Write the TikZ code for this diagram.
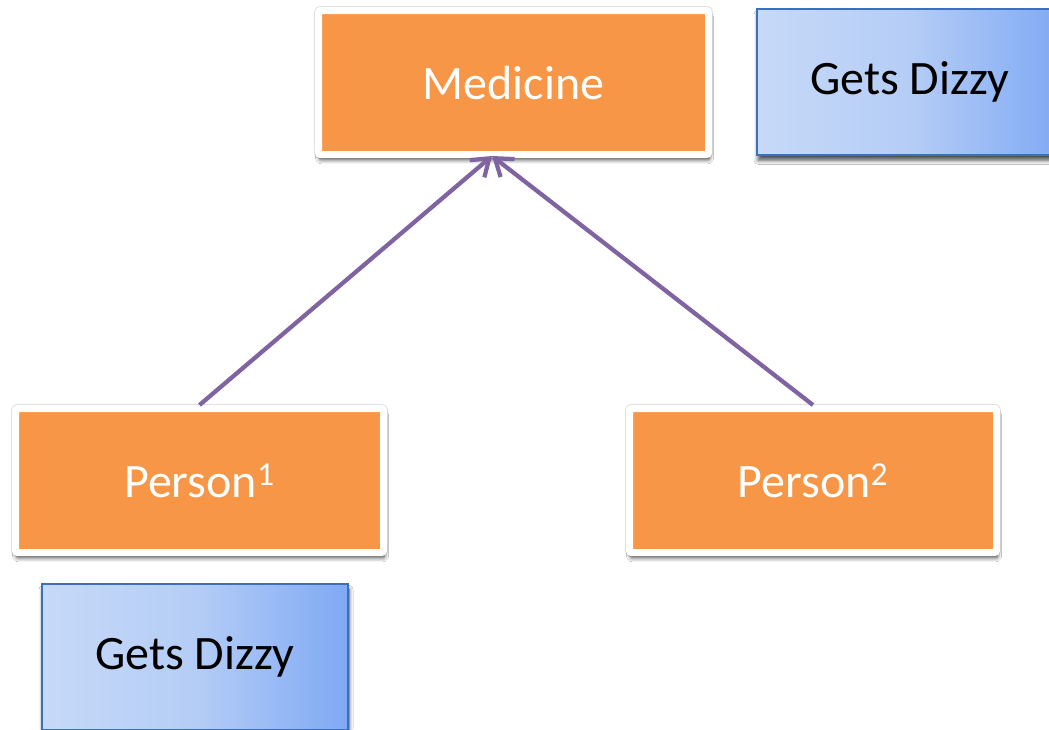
\documentclass[tikz,border=0pt]{standalone}
\usepackage{fontspec}
\setmainfont{Carlito}
\usetikzlibrary{arrows.meta,shadows.blur}
\definecolor{boxorange}{HTML}{F79646}
\definecolor{linkpurple}{HTML}{8064A2}
\definecolor{blueedge}{HTML}{3C70BC}
\definecolor{bluelight}{HTML}{C6D9F8}
\definecolor{bluemid}{HTML}{B5CDF6}
\definecolor{bluedark}{HTML}{7FA9F4}
\tikzset{
  softshadow/.style={blur shadow={shadow xshift=0.8pt, shadow yshift=-4pt,
    shadow blur radius=3pt, shadow blur steps=8, shadow opacity=70}},
  entity/.style={rectangle, draw=white, line width=5.25pt, fill=boxorange,
    rounded corners=1.5pt,
    preaction={draw=black!12, line width=6.6pt},
    text=white, font=\fontsize{36}{40}\selectfont,
    minimum width={367*0.75pt}, minimum height={144*0.75pt}, inner sep=0pt,
    softshadow},
  effect/.style={rectangle, draw=blueedge, line width=1.5pt,
    left color=bluelight, right color=bluedark, middle color=bluemid,
    text=black, font=\fontsize{36}{40}\selectfont,
    minimum width={306*0.75pt}, minimum height={146*0.75pt}, inner sep=0pt,
    softshadow},
  link/.style={draw=linkpurple, line width=3.2pt,
    -{Straight Barb[length=12pt, width=17pt, line width=3.2pt]}},
}
\begin{document}
\begin{tikzpicture}[x=0.75pt, y=-0.75pt]
  \useasboundingbox[fill=white] (0,0) rectangle (1049,729);
  \node[entity, minimum width={390*0.75pt}] (med) at (513.5,82.5) {Medicine};
  \node[entity, minimum width={368*0.75pt}] (p1) at (199.5,480.5) {Person\textsuperscript{1}};
  \node[entity] (p2) at (813,480.5) {Person\textsuperscript{2}};
  \node[effect] (dz1) at (910,82) {Gets Dizzy};
  \node[effect] (dz2) at (195,657) {Gets Dizzy};
  \coordinate (tip) at (492,156);
  \draw[link] (p1.north) -- (tip);
  \draw[link] (p2.north) -- (tip);
\end{tikzpicture}
\end{document}
